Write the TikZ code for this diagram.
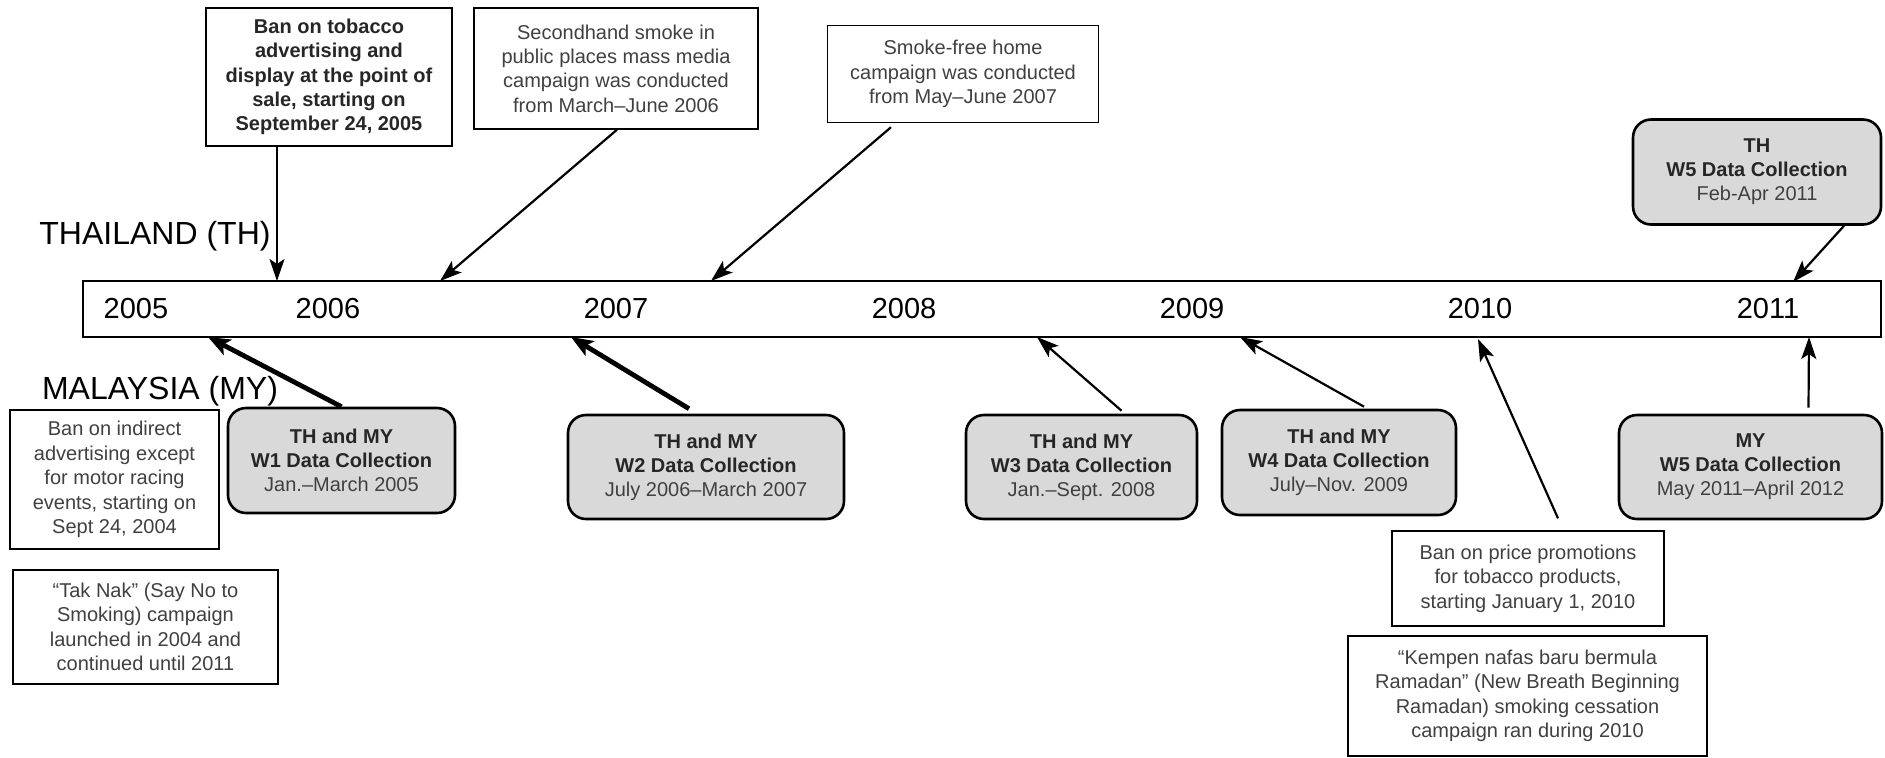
\documentclass[tikz,border=0pt]{standalone}
\usepackage{fontspec}
\setmainfont{Liberation Sans}
\usetikzlibrary{arrows.meta}

\definecolor{txtgray}{HTML}{404040}
\definecolor{hdgray}{HTML}{262626}
\definecolor{boxgray}{HTML}{D9D9D9}

\tikzset{
  note/.style={draw, line width=0.7pt, fill=white, align=center, inner sep=0pt,
    text=txtgray, font=\fontsize{10}{12.2}\selectfont},
  wave/.style={draw, line width=1.3pt, fill=boxgray, rounded corners=9pt, align=center,
    inner sep=0pt, text=txtgray, font=\fontsize{10}{12}\selectfont},
  year/.style={font=\fontsize{14.5}{17}\selectfont},
  country/.style={font=\fontsize{16}{18}\selectfont},
  link/.style={-{Stealth[length=11pt,width=7.5pt,inset=2.5pt]}, line width=1.1pt},
  boldlink/.style={-{Stealth[length=11pt,width=8.5pt,inset=2.5pt]}, line width=2.4pt}
}
\newcommand{\hd}[1]{{\color{hdgray}\bfseries #1}}

\begin{document}
\begin{tikzpicture}[x=0.5pt,y=-0.5pt]
  \useasboundingbox (0,0) rectangle (1885,757);

  % Timeline bar
  \node[draw, line width=1.3pt, minimum width=899pt, minimum height=28pt, inner sep=0pt]
    (bar) at (982,309) {};

  % Years
  \node[year] (y2005) at (136,309) {2005};
  \foreach \yr [count=\i from 0] in {2006,2007,2008,2009,2010,2011}
    \node[year] (y\yr) at (328+288*\i,309) {\yr};

  % Countries
  \node[country] (th) at (155,236) {THAILAND (TH)};
  \node[country] (my) at (160,391) {MALAYSIA (MY)};

  % Points on the bar
  \coordinate (t1) at (277,281);
  \coordinate (t2) at (440,281);
  \coordinate (t3) at (711,281);
  \coordinate (t4) at (1793,282);
  \coordinate (b1) at (208,337);
  \coordinate (b2) at (571,337);
  \coordinate (b3) at (1037,337);
  \coordinate (b4) at (1240,337);
  \coordinate (b5) at (1478,339);
  \coordinate (b6) at (1809,337);

  % Thailand events
  \node[note, minimum width=123pt, minimum height=69pt] (banth) at (329,77)
    {\hd{Ban on tobacco}\\\hd{advertising and}\\\hd{display at the point of}\\\hd{sale, starting on}\\\hd{September 24, 2005}};
  \node[note, minimum width=142pt, minimum height=60.5pt] (shs) at (616,68.5)
    {Secondhand smoke in\\public places mass media\\campaign was conducted\\from March--June 2006};
  \node[note, minimum width=135.5pt, minimum height=48.5pt] (sfh) at (963,74)
    {Smoke-free home\\campaign was conducted\\from May--June 2007};
  \node[wave, minimum width=124pt, minimum height=52.5pt] (thw5) at (1757,172)
    {\hd{TH}\\\hd{W5 Data Collection}\\Feb-Apr 2011};

  % Malaysia events
  \node[note, minimum width=104.5pt, minimum height=69.5pt] (banmy) at (114.5,479.5)
    {Ban on indirect\\advertising except\\for motor racing\\events, starting on\\Sept 24, 2004};
  \node[note, minimum width=132.5pt, minimum height=57pt] (taknak) at (145.5,627)
    {``Tak Nak'' (Say No to\\Smoking) campaign\\launched in 2004 and\\continued until 2011};
  \node[note, minimum width=136pt, minimum height=47.5pt] (price) at (1528,578.5)
    {Ban on price promotions\\for tobacco products,\\starting January 1, 2010};
  \node[note, minimum width=179.5pt, minimum height=60pt] (kempen) at (1527.5,696)
    {``Kempen nafas baru bermula\\Ramadan'' (New Breath Beginning\\Ramadan) smoking cessation\\campaign ran during 2010};

  % Data collection waves
  \node[wave, minimum width=113.5pt, minimum height=52.5pt] (w1) at (341.5,460.5)
    {\hd{TH and MY}\\\hd{W1 Data Collection}\\Jan.--March 2005};
  \node[wave, minimum width=138pt, minimum height=52pt] (w2) at (706,467)
    {\hd{TH and MY}\\\hd{W2 Data Collection}\\July 2006--March 2007};
  \node[wave, minimum width=115.5pt, minimum height=52pt] (w3) at (1081.5,467)
    {\hd{TH and MY}\\\hd{W3 Data Collection}\\Jan.--Sept. 2008};
  \node[wave, minimum width=117pt, minimum height=52.5pt] (w4) at (1339,462.5)
    {\hd{TH and MY}\\\hd{W4 Data Collection}\\July--Nov. 2009};
  \node[wave, minimum width=131.5pt, minimum height=52pt] (myw5) at (1750.5,467)
    {\hd{MY}\\\hd{W5 Data Collection}\\May 2011--April 2012};

  % Arrows from above
  \draw[link] ([xshift=-26pt]banth.south) -- (t1);
  \draw[link] ([xshift=0.5pt]shs.south) -- (t2);
  \draw[link] ([xshift=-36pt,yshift=-2pt]sfh.south) -- (t3);
  \draw[link] ([xshift=43.5pt]thw5.south) -- (t4);

  % Arrows from below
  \draw[boldlink] (w1.north) -- (b1);
  \draw[boldlink] ([xshift=-8.5pt,yshift=2.5pt]w2.north) -- (b2);
  \draw[link] ([xshift=20pt,yshift=1.5pt]w3.north) -- (b3);
  \draw[link] ([xshift=12.5pt,yshift=1pt]w4.north) -- (b4);
  \draw[link] ([xshift=15pt,yshift=6pt]price.north) -- (b5);
  \draw[link] ([xshift=29pt,yshift=3pt]myw5.north) -- (b6);
\end{tikzpicture}
\end{document}
